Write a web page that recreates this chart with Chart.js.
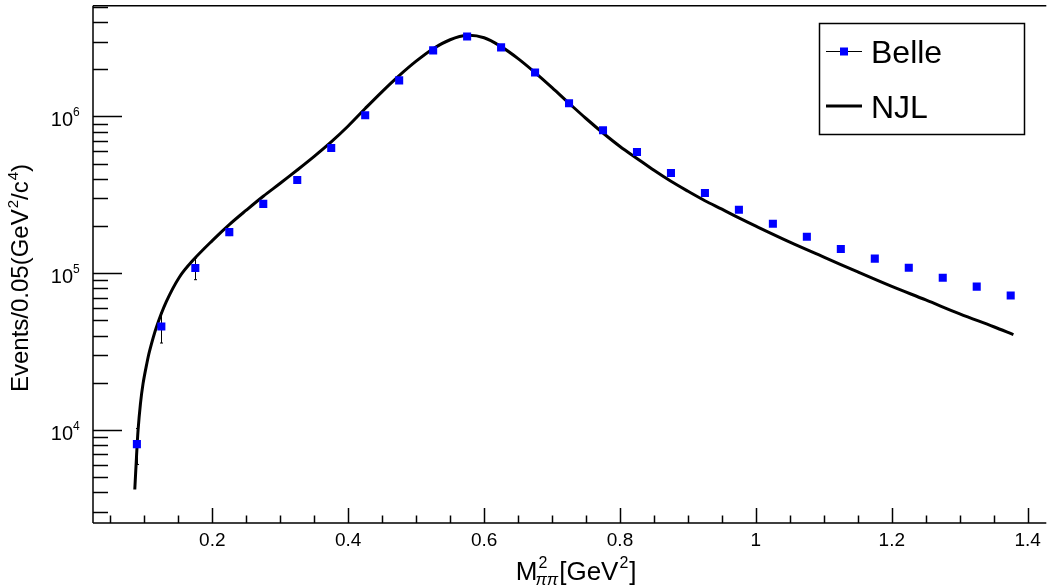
<!DOCTYPE html>
<html>
<head>
<meta charset="utf-8">
<script src="https://cdn.jsdelivr.net/npm/chart.js@4.4.0/dist/chart.umd.min.js"></script>
<style>
  body { margin: 0; background: #fff; }
  canvas { display: block; }
</style>
</head>
<body>
<canvas id="grafica" width="1052" height="587"></canvas>
<script>
// Belle: centros de bin, eventos y errores
const belleX = [0.089, 0.125, 0.175, 0.225, 0.275, 0.325, 0.375, 0.425, 0.475, 0.525, 0.575, 0.625, 0.675, 0.725,
                0.775, 0.825, 0.875, 0.925, 0.975, 1.025, 1.075, 1.125, 1.175, 1.225, 1.275, 1.325, 1.375];
const belleY = [8130, 45800, 108000, 183000, 277000, 394000, 629000, 1019000, 1700000, 2640000, 3240000, 2760000, 1910000, 1215000,
                818000, 593000, 436000, 325000, 254000, 207000, 171000, 143000, 124000, 108500, 93700, 82200, 72100];
const belleErr = [2100, 9900, 17000, 9000, 5000, 4000, 5000, 7000, 9000, 11000, 12000, 11000, 9000, 7000,
                  5500, 4500, 3500, 3000, 2500, 2200, 2000, 1800, 1600, 1500, 1400, 1300, 1200];

// Curva NJL
const njlX = [0.0859, 0.0884, 0.0907, 0.0942, 0.098, 0.103, 0.1078, 0.1176, 0.1323, 0.1517, 0.1712, 0.2, 0.225, 0.25, 0.275,
              0.3, 0.325, 0.35, 0.375, 0.4, 0.425, 0.45, 0.475, 0.5, 0.525, 0.55, 0.575, 0.6, 0.625, 0.65, 0.675,
              0.7, 0.725, 0.75, 0.775, 0.8, 0.825, 0.85, 0.875, 0.9, 0.925, 0.95, 0.975, 1.0, 1.05, 1.1, 1.15,
              1.2, 1.25, 1.3, 1.35, 1.379];
const njlY = [4174, 6725, 9940, 14700, 19700, 25750, 32080, 45100, 65900, 94740, 120600, 161600, 204300, 252600, 310000,
              375100, 455700, 556800, 688500, 870200, 1124000, 1442000, 1822000, 2253000, 2705000, 3087000, 3297000, 3178000, 2790000, 2340000, 1905000,
              1528000, 1215000, 971000, 785000, 644000, 540000, 453500, 386000, 333600, 290300, 256300, 225600, 199800, 158100, 126900, 101900,
              82400, 67600, 55100, 45600, 40600];

// Marcas de ejes
const xTicks = [0.2, 0.4, 0.6, 0.8, 1.0, 1.2, 1.4];
const xTickLabels = ['0.2', '0.4', '0.6', '0.8', '1', '1.2', '1.4'];
const yTickExp = [4, 5, 6];

const fuente = '"Liberation Sans", Arial, Helvetica, sans-serif';

// Texto con superíndices: partes [texto, tipo]
function medir(ctx, partes, size) {
    let w = 0;
    partes.forEach(p => {
        ctx.font = (p[1] === 'n' ? size : Math.round(size * 0.62)) + 'px ' + fuente;
        w += ctx.measureText(p[0]).width + (p[1] === 'n' ? 0 : 1);
    });
    return w;
}
function dibujarPartes(ctx, partes, x, y, size) {
    partes.forEach(p => {
        if (p[1] === 'n') {
            ctx.font = size + 'px ' + fuente;
            ctx.fillText(p[0], x, y);
            x += ctx.measureText(p[0]).width;
        } else {
            ctx.font = Math.round(size * 0.62) + 'px ' + fuente;
            ctx.fillText(p[0], x + 1, y - size * 0.42);
            x += ctx.measureText(p[0]).width + 1;
        }
    });
}

const marcoRoot = {
    id: 'marcoRoot',
    beforeDatasetsDraw(chart) {
        const ctx = chart.ctx, a = chart.chartArea;
        const xs = chart.scales.x, ys = chart.scales.y;
        ctx.save();
        ctx.strokeStyle = '#000';
        ctx.fillStyle = '#000';
        ctx.lineWidth = 1.5;
        ctx.beginPath();
        ctx.moveTo(a.left, a.top); ctx.lineTo(a.right, a.top);
        ctx.moveTo(a.left, a.top); ctx.lineTo(a.left, a.bottom);
        ctx.moveTo(a.left, a.bottom); ctx.lineTo(a.right, a.bottom);
        ctx.stroke();

        // marcas eje x
        ctx.beginPath();
        for (let k = 1; k <= 28; k++) {
            const v = k * 0.05;
            if (v < xs.min || v > xs.max) continue;
            const px = Math.round(xs.getPixelForValue(v)) + 0.5;
            ctx.moveTo(px, a.bottom);
            ctx.lineTo(px, a.bottom - (k % 4 === 0 ? 15 : 7.5));
        }
        ctx.stroke();
        ctx.font = '19px ' + fuente;
        ctx.textAlign = 'center';
        xTicks.forEach((v, i) => {
            ctx.fillText(xTickLabels[i], xs.getPixelForValue(v), a.bottom + 23);
        });

        // marcas eje y
        ctx.beginPath();
        for (let d = 3; d <= 6; d++) {
            for (let m = 1; m <= 9; m++) {
                const v = m * Math.pow(10, d);
                if (v < ys.min || v > ys.max) continue;
                const py = Math.round(ys.getPixelForValue(v)) + 0.5;
                ctx.moveTo(a.left, py);
                ctx.lineTo(a.left + (m === 1 ? 29 : 15), py);
            }
        }
        ctx.stroke();
        ctx.textAlign = 'left';
        yTickExp.forEach(e => {
            const py = ys.getPixelForValue(Math.pow(10, e));
            ctx.font = '20px ' + fuente;
            const w = ctx.measureText('10').width;
            ctx.fillText('10', 73 - w, py + 10);
            ctx.font = '12px ' + fuente;
            ctx.fillText(String(e), 73, py);
        });

        // título eje x: M^2_{ππ}[GeV^2]
        const s = 26;
        ctx.font = s + 'px ' + fuente;
        const wM = ctx.measureText('M').width;
        const wG = ctx.measureText('[GeV').width;
        const wC = ctx.measureText(']').width;
        ctx.font = 'italic 17px ' + fuente;
        const wPi = ctx.measureText('ππ').width;
        ctx.font = '16px ' + fuente;
        const w2 = ctx.measureText('2').width;
        const total = wM + wPi + wG + w2 + wC;
        let x0 = (a.left + a.right) / 2 + 6 - total / 2;
        const by = 580;
        ctx.font = s + 'px ' + fuente;
        ctx.fillText('M', x0, by);
        ctx.font = '16px ' + fuente;
        ctx.fillText('2', x0 + wM + 1, by - 12);
        ctx.font = 'italic 17px ' + fuente;
        ctx.fillText('ππ', x0 + wM - 2, by + 5);
        x0 += wM + wPi - 1;
        ctx.font = s + 'px ' + fuente;
        ctx.fillText('[GeV', x0, by);
        x0 += wG;
        ctx.font = '16px ' + fuente;
        ctx.fillText('2', x0 + 1, by - 12);
        x0 += w2 + 2;
        ctx.font = s + 'px ' + fuente;
        ctx.fillText(']', x0, by);

        // título eje y
        const partesY = [['Events/0.05(GeV', 'n'], ['2', 'sup'], ['/c', 'n'], ['4', 'sup'], [')', 'n']];
        const sy = 24;
        const wy = medir(ctx, partesY, sy);
        ctx.translate(28, 278);
        ctx.rotate(-Math.PI / 2);
        dibujarPartes(ctx, partesY, -wy / 2, 0, sy);
        ctx.restore();

        // barras de error
        ctx.save();
        ctx.strokeStyle = '#000';
        ctx.lineWidth = 1;
        ctx.beginPath();
        belleX.forEach((x, i) => {
            const px = Math.round(xs.getPixelForValue(x)) + 0.5;
            const y1 = ys.getPixelForValue(belleY[i] + belleErr[i]);
            const y2 = ys.getPixelForValue(belleY[i] - belleErr[i]);
            ctx.moveTo(px, y1); ctx.lineTo(px, y2);
            ctx.moveTo(px - 1.5, y1); ctx.lineTo(px + 1.5, y1);
            ctx.moveTo(px - 1.5, y2); ctx.lineTo(px + 1.5, y2);
        });
        ctx.stroke();
        ctx.restore();
    },
    afterDatasetsDraw(chart) {
        // leyenda estilo ROOT
        const ctx = chart.ctx;
        ctx.save();
        ctx.fillStyle = '#fff';
        ctx.fillRect(819.5, 23.5, 205, 111);
        ctx.strokeStyle = '#000';
        ctx.lineWidth = 1.5;
        ctx.strokeRect(819.5, 23.5, 205, 111);
        ctx.lineWidth = 1;
        ctx.beginPath();
        ctx.moveTo(826, 51.5); ctx.lineTo(862, 51.5);
        ctx.stroke();
        ctx.fillStyle = '#0000ff';
        ctx.fillRect(840, 47.5, 8, 8);
        ctx.lineWidth = 3;
        ctx.beginPath();
        ctx.moveTo(826, 106); ctx.lineTo(862, 106);
        ctx.stroke();
        ctx.fillStyle = '#000';
        ctx.font = '32px ' + fuente;
        ctx.textAlign = 'left';
        ctx.fillText('Belle', 871, 63);
        ctx.fillText('NJL', 871, 118);
        ctx.restore();
    }
};

const ctx = document.getElementById('grafica').getContext('2d');
const chart = new Chart(ctx, {
    type: 'scatter',
    data: {
        datasets: [
            {
                label: 'Belle',
                data: belleX.map((x, i) => ({ x: x, y: belleY[i] })),
                pointStyle: 'rect',
                pointRadius: 5.7,
                pointBackgroundColor: '#0000ff',
                pointBorderWidth: 0,
                borderColor: '#0000ff',
                showLine: false
            },
            {
                label: 'NJL',
                data: njlX.map((x, i) => ({ x: x, y: njlY[i] })),
                showLine: true,
                borderColor: '#000',
                borderWidth: 3,
                pointRadius: 0,
                tension: 0.35,
                fill: false
            }
        ]
    },
    options: {
        responsive: false,
        animation: false,
        layout: { padding: { left: 93, top: 4, right: 0, bottom: 64 } },
        plugins: {
            legend: { display: false },
            tooltip: { enabled: false }
        },
        scales: {
            x: { type: 'linear', min: 0.0244, max: 1.4274, display: false },
            y: { type: 'logarithmic', min: 2553, max: 5.09e6, display: false }
        }
    },
    plugins: [marcoRoot]
});
</script>
</body>
</html>
